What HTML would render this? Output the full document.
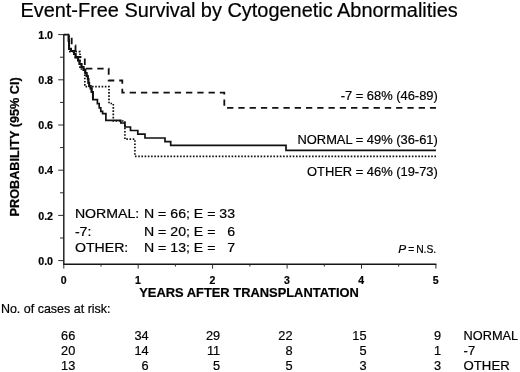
<!DOCTYPE html>
<html><head><meta charset="utf-8">
<style>
html,body{margin:0;padding:0;background:#fff;}
body{width:520px;height:372px;overflow:hidden;position:relative;font-family:"Liberation Sans",sans-serif;color:#111;}
svg{position:absolute;left:0;top:0;will-change:transform;}
text{font-family:"Liberation Sans",sans-serif;fill:#000;stroke:#000;stroke-width:0.2px;}
</style></head><body>
<svg width="520" height="372" viewBox="0 0 520 372">
<rect width="520" height="372" fill="#fff"/>
<text transform="translate(20.4,16.7) scale(1.0276,1)" font-size="19.4" xml:space="preserve">Event-Free Survival by Cytogenetic Abnormalities</text>
<g stroke="#151515" stroke-width="1.4" fill="none"><path d="M63.8,34 V264.2 H436.4"/></g>
<g stroke="#222" stroke-width="0.95" fill="none">
<path d="M58.2,260.6H63.8 M58.2,215.4H63.8 M58.2,170.2H63.8 M58.2,125.0H63.8 M58.2,79.8H63.8 M58.2,34.6H63.8 M60,238.0H63.8 M60,192.8H63.8 M60,147.6H63.8 M60,102.4H63.8 M60,57.2H63.8 M63.8,264V268.6 M138.2,264V268.6 M212.6,264V268.6 M287.1,264V268.6 M361.5,264V268.6 M435.9,264V268.6 M101.0,264V266.6 M175.4,264V266.6 M249.9,264V266.6 M324.3,264V266.6 M398.7,264V266.6"/>
</g>
<text transform="translate(38.2,264.7) scale(1,1)" font-size="10.7" font-weight="bold" stroke="#111" stroke-width="0.25" xml:space="preserve">0.0</text>
<text transform="translate(38.2,219.5) scale(1,1)" font-size="10.7" font-weight="bold" stroke="#111" stroke-width="0.25" xml:space="preserve">0.2</text>
<text transform="translate(38.2,174.3) scale(1,1)" font-size="10.7" font-weight="bold" stroke="#111" stroke-width="0.25" xml:space="preserve">0.4</text>
<text transform="translate(38.2,129.1) scale(1,1)" font-size="10.7" font-weight="bold" stroke="#111" stroke-width="0.25" xml:space="preserve">0.6</text>
<text transform="translate(38.2,83.9) scale(1,1)" font-size="10.7" font-weight="bold" stroke="#111" stroke-width="0.25" xml:space="preserve">0.8</text>
<text transform="translate(38.2,38.7) scale(1,1)" font-size="10.7" font-weight="bold" stroke="#111" stroke-width="0.25" xml:space="preserve">1.0</text>
<text transform="translate(63.6,283.6) scale(1,1)" font-size="10.5" text-anchor="middle" font-weight="bold" stroke="#111" stroke-width="0.25" xml:space="preserve">0</text>
<text transform="translate(138.02,283.6) scale(1,1)" font-size="10.5" text-anchor="middle" font-weight="bold" stroke="#111" stroke-width="0.25" xml:space="preserve">1</text>
<text transform="translate(212.44,283.6) scale(1,1)" font-size="10.5" text-anchor="middle" font-weight="bold" stroke="#111" stroke-width="0.25" xml:space="preserve">2</text>
<text transform="translate(286.86,283.6) scale(1,1)" font-size="10.5" text-anchor="middle" font-weight="bold" stroke="#111" stroke-width="0.25" xml:space="preserve">3</text>
<text transform="translate(361.28,283.6) scale(1,1)" font-size="10.5" text-anchor="middle" font-weight="bold" stroke="#111" stroke-width="0.25" xml:space="preserve">4</text>
<text transform="translate(435.7,283.6) scale(1,1)" font-size="10.5" text-anchor="middle" font-weight="bold" stroke="#111" stroke-width="0.25" xml:space="preserve">5</text>
<text transform="translate(139.2,297) scale(1.057,1)" font-size="12.2" font-weight="bold" xml:space="preserve">YEARS AFTER TRANSPLANTATION</text>
<text font-size="12.1" font-weight="bold" text-anchor="middle" transform="translate(18.8,146.9) rotate(-90) scale(1.048,1)">PROBABILITY (95% CI)</text>
<g fill="none" stroke="#111">
<path stroke-width="1.7" stroke-dasharray="1.6 1.62" d="M69.0,35.5 V51.6 H80 V69 H84.8 V86.6 H109 V103.5 H113.3 V121 H124.9 V139.2 H134.9 V156.3 H436"/>
<path stroke-width="1.8" stroke-dasharray="6.3 4.97" stroke-dashoffset="7.9" d="M71.7,34.5 V45.5 H75.5 V57 H84.8 V68.6 H108.7 V80.5 H122.3 V92.6 H224.3 V107.9 H436"/>
<path stroke-width="1.95" d="M68.7,35.5 V41 H69.1 V48.8 H71 V51 H74 V54 H75.6 V57.5 H78 V60.5 H79.5 V64 H81.5 V67 H83.5 V70 H85.3 V73 H86.6 V76 H87.8 V79 H88.4 V83 H89.2 V86 H90.6 V88.5 H91.6 V92 H92.9 V99.6"/>
<path stroke-width="1.7" d="M63.8,34.7 H68.6 V41 H69.1 V48.8 H71 V51 H74 V54 H75.6 V57.5 H78 V60.5 H79.5 V64 H81.5 V67 H83.5 V70 H85.3 V73 H86.6 V76 H87.8 V79 H88.4 V83 H89.2 V86 H90.6 V88.5 H91.6 V92 H92.9 V99.6 H97.4 V103.6 H99.2 V107.8 H100.8 V111.4 H102.6 V113.7 H105.9 V120.4 H120.8 V123 H124.9 V127 H130.5 V130.5 H137.8 V134.2 H145 V138 H165 V141.6 H170.7 V145.4 H286 V150.4 H436"/>
</g>
<text transform="translate(437.8,100) scale(1,1)" font-size="12.9" text-anchor="end" xml:space="preserve">-7 = 68% (46-89)</text>
<text transform="translate(437.8,143.8) scale(1,1)" font-size="12.9" text-anchor="end" xml:space="preserve">NORMAL = 49% (36-61)</text>
<text transform="translate(437.8,175.6) scale(1,1)" font-size="12.9" text-anchor="end" xml:space="preserve">OTHER = 46% (19-73)</text>
<text transform="translate(74.9,218.3) scale(1.04,1)" font-size="13.6" xml:space="preserve">NORMAL:</text>
<text transform="translate(144,218.3) scale(1.038,1)" font-size="13.6" xml:space="preserve">N = 66; E = 33</text>
<text transform="translate(74.9,235.5) scale(1.04,1)" font-size="13.6" xml:space="preserve">-7:</text>
<text transform="translate(144,235.5) scale(1.038,1)" font-size="13.6" xml:space="preserve">N = 20; E =   6</text>
<text transform="translate(74.9,252.3) scale(1.04,1)" font-size="13.6" xml:space="preserve">OTHER:</text>
<text transform="translate(144,252.3) scale(1.038,1)" font-size="13.6" xml:space="preserve">N = 13; E =   7</text>
<text transform="translate(398.2,252.6) scale(1.15,1)" font-size="10.3" font-style="italic">P</text>
<text x="408.2" y="252.6" font-size="10.3">=</text>
<text x="416.2" y="252.6" font-size="10.3">N.S.</text>
<text transform="translate(0.9,313.4) scale(1.008,1)" font-size="12.4" xml:space="preserve">No. of cases at risk:</text>
<text transform="translate(75.3,339.7) scale(1.03,1)" font-size="12.4" text-anchor="end" xml:space="preserve">66</text>
<text transform="translate(148.6,339.7) scale(1.03,1)" font-size="12.4" text-anchor="end" xml:space="preserve">34</text>
<text transform="translate(220.2,339.7) scale(1.03,1)" font-size="12.4" text-anchor="end" xml:space="preserve">29</text>
<text transform="translate(292.5,339.7) scale(1.03,1)" font-size="12.4" text-anchor="end" xml:space="preserve">22</text>
<text transform="translate(366.5,339.7) scale(1.03,1)" font-size="12.4" text-anchor="end" xml:space="preserve">15</text>
<text transform="translate(441,339.7) scale(1.03,1)" font-size="12.4" text-anchor="end" xml:space="preserve">9</text>
<text transform="translate(463.6,339.7) scale(1.03,1)" font-size="12.4" xml:space="preserve">NORMAL</text>
<text transform="translate(75.3,355.1) scale(1.03,1)" font-size="12.4" text-anchor="end" xml:space="preserve">20</text>
<text transform="translate(148.6,355.1) scale(1.03,1)" font-size="12.4" text-anchor="end" xml:space="preserve">14</text>
<text transform="translate(220.2,355.1) scale(1.03,1)" font-size="12.4" text-anchor="end" xml:space="preserve">11</text>
<text transform="translate(292.5,355.1) scale(1.03,1)" font-size="12.4" text-anchor="end" xml:space="preserve">8</text>
<text transform="translate(366.5,355.1) scale(1.03,1)" font-size="12.4" text-anchor="end" xml:space="preserve">5</text>
<text transform="translate(441,355.1) scale(1.03,1)" font-size="12.4" text-anchor="end" xml:space="preserve">1</text>
<text transform="translate(463.6,355.1) scale(1.05,1)" font-size="12.4" xml:space="preserve">-7</text>
<text transform="translate(75.3,370.3) scale(1.03,1)" font-size="12.4" text-anchor="end" xml:space="preserve">13</text>
<text transform="translate(148.6,370.3) scale(1.03,1)" font-size="12.4" text-anchor="end" xml:space="preserve">6</text>
<text transform="translate(220.2,370.3) scale(1.03,1)" font-size="12.4" text-anchor="end" xml:space="preserve">5</text>
<text transform="translate(292.5,370.3) scale(1.03,1)" font-size="12.4" text-anchor="end" xml:space="preserve">5</text>
<text transform="translate(366.5,370.3) scale(1.03,1)" font-size="12.4" text-anchor="end" xml:space="preserve">3</text>
<text transform="translate(441,370.3) scale(1.03,1)" font-size="12.4" text-anchor="end" xml:space="preserve">3</text>
<text transform="translate(463.6,370.3) scale(1.062,1)" font-size="12.4" xml:space="preserve">OTHER</text>
</svg>
</body></html>
